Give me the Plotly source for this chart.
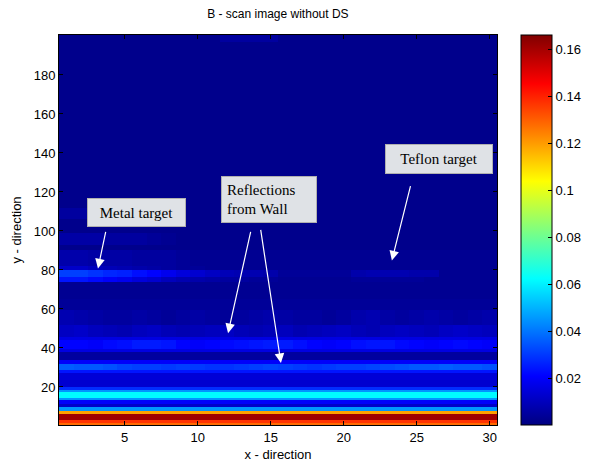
import plotly.graph_objects as go

# ---------------- data ----------------
x_cols = list(range(1, 31))

# y bin edges (bricks) of the B-scan, bottom to top
y_edges = [0.5, 1.6, 3.1, 6.2, 7.7, 9.8, 11.5, 13.4, 14.5, 17.5, 18.5, 20,
           23.5, 27.2, 28.5, 32, 33.8, 37.9, 39.5, 44, 45.6, 52, 59.4, 65,
           73.7, 76.2, 79.8, 82, 90, 93, 99, 106, 112, 197, 200.5]

# base level of each band (applies to all columns unless a textured row is given)
row_levels = [0.128, 0.137, 0.161, 0.119, 0.045, 0.012, 0.020, 0.045, 0.062,
              0.045, 0.028, 0.013, 0.014, 0.024, 0.034, 0.020, 0.005, 0.016,
              0.024, 0.016, 0.011, 0.007, 0.004, 0.003, 0.004, 0.004, 0.003,
              0.003, 0.002, 0.002, 0.002, 0.002, 0.002, 0.002]

# textured rows: band index -> 30 column values
row_30 = [0.036, 0.035, 0.035, 0.034, 0.032, 0.031, 0.031, 0.030, 0.031, 0.030,
          0.029, 0.029, 0.030, 0.031, 0.032, 0.031, 0.030, 0.029, 0.030, 0.031,
          0.031, 0.032, 0.033, 0.034, 0.035, 0.035, 0.036, 0.035, 0.035, 0.034]
row_41 = [0.021, 0.021, 0.020, 0.022, 0.023, 0.025, 0.025, 0.024, 0.021, 0.020,
          0.021, 0.022, 0.023, 0.024, 0.025, 0.025, 0.023, 0.021, 0.020, 0.021,
          0.023, 0.024, 0.024, 0.022, 0.021, 0.020, 0.021, 0.022, 0.021, 0.020]
row_48 = [0.011, 0.012, 0.010, 0.009, 0.008, 0.010, 0.011, 0.009, 0.008, 0.009,
          0.010, 0.011, 0.009, 0.008, 0.009, 0.010, 0.008, 0.009, 0.010, 0.011,
          0.009, 0.008, 0.010, 0.011, 0.010, 0.009, 0.011, 0.012, 0.011, 0.010]
row_55 = [0.008, 0.007, 0.006, 0.005, 0.005, 0.006, 0.005, 0.004, 0.005, 0.006,
          0.005, 0.004, 0.005, 0.006, 0.007, 0.006, 0.005, 0.005, 0.004, 0.005,
          0.007, 0.008, 0.006, 0.005, 0.006, 0.007, 0.006, 0.005, 0.006, 0.007]
row_75 = [0.024, 0.024, 0.022, 0.020, 0.018, 0.015, 0.013, 0.010, 0.008, 0.007,
          0.006, 0.005, 0.005, 0.004, 0.004, 0.003, 0.003, 0.003, 0.003, 0.003,
          0.004, 0.004, 0.004, 0.004, 0.004, 0.003, 0.003, 0.003, 0.003, 0.003]
row_78 = [0.031, 0.031, 0.029, 0.027, 0.026, 0.023, 0.021, 0.018, 0.015, 0.013,
          0.011, 0.009, 0.008, 0.008, 0.007, 0.004, 0.004, 0.004, 0.004, 0.004,
          0.007, 0.008, 0.008, 0.008, 0.007, 0.007, 0.003, 0.003, 0.003, 0.003]
row_81 = [0.012, 0.012, 0.010, 0.009, 0.008, 0.007, 0.006, 0.005, 0.004, 0.004,
          0.003, 0.003, 0.003, 0.003, 0.003, 0.003, 0.003, 0.003, 0.003, 0.003,
          0.003, 0.003, 0.003, 0.003, 0.003, 0.003, 0.003, 0.003, 0.003, 0.003]
row_86 = [0.007, 0.007, 0.006, 0.006, 0.006, 0.005, 0.005, 0.005, 0.004, 0.003,
          0.003, 0.003, 0.003, 0.003, 0.003, 0.003, 0.003, 0.003, 0.003, 0.003,
          0.003, 0.003, 0.003, 0.003, 0.003, 0.003, 0.003, 0.003, 0.003, 0.003]
row_96 = [0.006, 0.006, 0.006, 0.005, 0.005, 0.005, 0.004, 0.003, 0.002, 0.002,
          0.002, 0.002, 0.002, 0.002, 0.002, 0.002, 0.002, 0.002, 0.002, 0.002,
          0.002, 0.002, 0.002, 0.002, 0.002, 0.002, 0.002, 0.002, 0.002, 0.002]
row_109 = [0.005, 0.005, 0.004, 0.003, 0.002, 0.002, 0.002, 0.002, 0.002, 0.002,
           0.002, 0.002, 0.002, 0.002, 0.002, 0.002, 0.002, 0.002, 0.002, 0.002,
           0.002, 0.002, 0.002, 0.002, 0.002, 0.002, 0.002, 0.002, 0.002, 0.002]
row_top = [0.002, 0.002, 0.002, 0.002, 0.002, 0.002, 0.002, 0.002, 0.002, 0.002,
           0.002, 0.005, 0.005, 0.005, 0.005, 0.002, 0.002, 0.002, 0.002, 0.002,
           0.002, 0.002, 0.002, 0.002, 0.002, 0.002, 0.002, 0.002, 0.002, 0.002]

textured_rows = {14: row_30, 18: row_41, 20: row_48, 21: row_55,
                 24: row_75, 25: row_78, 26: row_81, 27: row_86,
                 29: row_96, 31: row_109, 33: row_top}

z = [textured_rows.get(i, [lvl] * len(x_cols)) for i, lvl in enumerate(row_levels)]

x_ticks = [5, 10, 15, 20, 25, 30]
y_ticks = [20, 40, 60, 80, 100, 120, 140, 160, 180]
cbar_ticks = [0.02, 0.04, 0.06, 0.08, 0.1, 0.12, 0.14, 0.16]
cbar_labels = ["0.02", "0.04", "0.06", "0.08", "0.1", "0.12", "0.14", "0.16"]

jet = [[0.0, "rgb(0,0,128)"], [0.125, "rgb(0,0,255)"], [0.375, "rgb(0,255,255)"],
       [0.625, "rgb(255,255,0)"], [0.875, "rgb(255,0,0)"], [1.0, "rgb(128,0,0)"]]

# ---------------- figure ----------------
fig = go.Figure()
fig.add_trace(go.Heatmap(
    x=x_cols, y=y_edges, z=z, colorscale=jet, zmin=0.0, zmax=0.166,
    zsmooth=False,
    colorbar=dict(
        x=1.0548, xanchor="left", xref="paper", y=0.5, yanchor="middle",
        len=1.0, lenmode="fraction", thickness=31, thicknessmode="pixels",
        xpad=0, ypad=0,
        outlinecolor="black", outlinewidth=1,
        tickvals=cbar_ticks, ticktext=cbar_labels, ticks="inside",
        ticklen=4, tickcolor="black",
        tickfont=dict(family="Liberation Sans, Arial", size=13, color="black"),
    ),
))

sans = "Liberation Sans, Arial, sans-serif"
serif = "Liberation Serif, Times New Roman, serif"

fig.update_layout(
    width=590, height=463,
    margin=dict(l=59, r=93, t=35, b=38, autoexpand=False),
    paper_bgcolor="white", plot_bgcolor="white",
    title=dict(text="B - scan image without DS", x=0.471, xanchor="center",
               y=0.97, yanchor="middle", yref="container", automargin=False,
               font=dict(family=sans, size=12, color="black")),
    xaxis=dict(range=[0.5, 30.5], tickvals=x_ticks, ticks="inside", ticklen=4,
               tickcolor="black", showline=True, linecolor="black", linewidth=1,
               mirror="ticks", showgrid=False, zeroline=False, automargin=False,
               tickfont=dict(family=sans, size=13, color="black"),
               title=dict(text="x - direction", standoff=6,
                          font=dict(family=sans, size=13, color="black"))),
    yaxis=dict(range=[0.5, 200.5], tickvals=y_ticks, ticks="inside", ticklen=4,
               tickcolor="black", showline=True, linecolor="black", linewidth=1,
               mirror="ticks", showgrid=False, zeroline=False, automargin=False,
               tickfont=dict(family=sans, size=13, color="black"),
               title=dict(text="y - direction", standoff=9,
                          font=dict(family=sans, size=13, color="black"))),
)

box_style = dict(showarrow=False, bgcolor="#dfe2e6", bordercolor="#b0b0b0",
                 borderwidth=1, borderpad=5, xref="x", yref="y",
                 font=dict(family=serif, size=15, color="black"))

# label boxes
fig.add_annotation(text="Metal target", x=5.8, y=109.5, width=87, height=17, **box_style)
fig.add_annotation(text="Reflections<br>from Wall", x=14.9, y=116.1, width=84,
                   height=35, align="left", **box_style)
fig.add_annotation(text="Teflon target", x=26.5, y=136.8, width=96, height=18, **box_style)

# arrows: (head_x, head_y, tail_x, tail_y)
arrow_heads_x = [3.17, 23.3, 12.08, 15.7]
arrow_heads_y = [80.8, 84.9, 47.6, 32.3]
arrow_tails_x = [3.72, 24.6, 13.65, 14.3]
arrow_tails_y = [100.3, 123.8, 100.3, 101.3]
for hx, hy, tx, ty in zip(arrow_heads_x, arrow_heads_y, arrow_tails_x, arrow_tails_y):
    fig.add_annotation(x=hx, y=hy, ax=tx, ay=ty, xref="x", yref="y",
                       axref="x", ayref="y", text="", showarrow=True,
                       arrowhead=2, arrowsize=1.6, arrowwidth=1.2,
                       arrowcolor="white")

fig.write_html("out.html", config={"displayModeBar": False},
               post_script="document.body.style.margin='0';")
